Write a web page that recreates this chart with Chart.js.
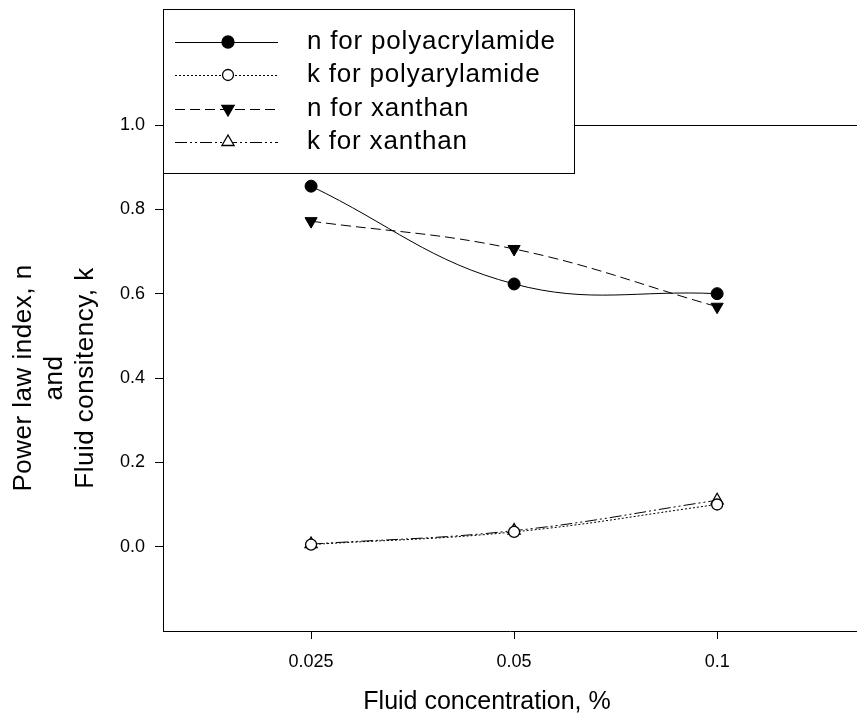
<!DOCTYPE html>
<html>
<head>
<meta charset="utf-8">
<script src="https://cdn.jsdelivr.net/npm/chart.js@4/dist/chart.umd.min.js"></script>
<style>
  html, body { margin: 0; padding: 0; background: #fff; }
  #wrap { width: 857px; height: 719px; position: relative; }
</style>
</head>
<body>
<div id="wrap"><canvas id="chart"></canvas></div>
<script>
// fluid concentration, %
const concentrations = [0.025, 0.05, 0.1];
const xTickLabels = ['0.025', '0.05', '0.1'];
const yTickLabels = ['0.0', '0.2', '0.4', '0.6', '0.8', '1.0'];

// power law index n and consistency k
const nPolyacrylamide = [0.855, 0.623, 0.600];
const kPolyacrylamide = [0.005, 0.035, 0.100];
const nXanthan = [0.772, 0.706, 0.569];
const kXanthan = [0.006, 0.038, 0.110];

const seriesNames = ['n for polyacrylamide', 'k for polyarylamide', 'n for xanthan', 'k for xanthan'];

const FONT = "'Liberation Sans', Arial, sans-serif";

function pts(vals) {
  return vals.map((v, i) => ({ x: concentrations[i], y: v }));
}

function drawMarker(ctx, ds, x, y) {
  ctx.save();
  ctx.lineWidth = 1.3;
  ctx.strokeStyle = '#000';
  ctx.fillStyle = ds.pointBackgroundColor;
  const r = ds.pointRadius;
  ctx.beginPath();
  if (ds.pointStyle === 'circle') {
    ctx.arc(x, y, r, 0, Math.PI * 2);
  } else {
    const down = ds.pointRotation === 180 ? -1 : 1;
    ctx.moveTo(x, y - down * r);
    ctx.lineTo(x + r * 0.87, y + down * r * 0.5);
    ctx.lineTo(x - r * 0.87, y + down * r * 0.5);
    ctx.closePath();
  }
  ctx.fill();
  ctx.stroke();
  ctx.restore();
}

// boxed legend sitting over the top left of the plot, plus axis titles
const extras = {
  id: 'extras',
  afterDraw(chart) {
    const ctx = chart.ctx;
    const area = chart.chartArea;
    ctx.save();
    // legend box
    const bx = 163, by = 9, bw = 411, bh = 164;
    ctx.fillStyle = '#fff';
    ctx.fillRect(bx, by, bw, bh);
    ctx.strokeStyle = '#000';
    ctx.lineWidth = 1;
    ctx.strokeRect(bx + 0.5, by + 0.5, bw, bh);
    const rows = [42, 75, 109, 142];
    chart.data.datasets.forEach((ds, i) => {
      const y = rows[i];
      ctx.save();
      ctx.strokeStyle = '#000';
      ctx.lineWidth = 1;
      ctx.setLineDash(ds.borderDash || []);
      ctx.beginPath();
      ctx.moveTo(175, y + 0.5);
      ctx.lineTo(278, y + 0.5);
      ctx.stroke();
      ctx.restore();
      drawMarker(ctx, ds, 228, y);
      ctx.fillStyle = '#000';
      ctx.font = '26px ' + FONT;
      ctx.letterSpacing = '0.8px';
      ctx.textBaseline = 'middle';
      ctx.textAlign = 'left';
      ctx.fillText(ds.label, 307, y);
    });
    // x axis title
    ctx.fillStyle = '#000';
    ctx.font = '25px ' + FONT;
    ctx.letterSpacing = '0px';
    ctx.textAlign = 'center';
    ctx.textBaseline = 'middle';
    ctx.fillText('Fluid concentration, %', 487, 702);
    // y axis title
    ctx.save();
    ctx.font = '26px ' + FONT;
    ctx.letterSpacing = '0.5px';
    ctx.translate(55, (area.top + area.bottom) / 2);
    ctx.rotate(-Math.PI / 2);
    ctx.fillText('Power law index, n', 0, -31);
    ctx.fillText('and', 0, 0);
    ctx.fillText('Fluid consitency, k', 0, 31);
    ctx.restore();
    ctx.restore();
  }
};

new Chart(document.getElementById('chart'), {
  type: 'line',
  data: {
    datasets: [
      {
        label: seriesNames[0],
        data: pts(nPolyacrylamide),
        borderColor: '#000', borderWidth: 1,
        pointStyle: 'circle', pointRadius: 6,
        pointBackgroundColor: '#000', pointBorderColor: '#000',
        tension: 0.4
      },
      {
        label: seriesNames[1],
        data: pts(kPolyacrylamide),
        borderColor: '#000', borderWidth: 1, borderDash: [2, 2],
        pointStyle: 'circle', pointRadius: 5.5,
        pointBackgroundColor: '#fff', pointBorderColor: '#000', pointBorderWidth: 1.3,
        tension: 0.4
      },
      {
        label: seriesNames[2],
        data: pts(nXanthan),
        borderColor: '#000', borderWidth: 1, borderDash: [10, 5],
        pointStyle: 'triangle', pointRotation: 180, pointRadius: 7,
        pointBackgroundColor: '#000', pointBorderColor: '#000',
        tension: 0.4
      },
      {
        label: seriesNames[3],
        data: pts(kXanthan),
        borderColor: '#000', borderWidth: 1, borderDash: [12, 3, 2, 3, 2, 3],
        pointStyle: 'triangle', pointRadius: 7,
        pointBackgroundColor: '#fff', pointBorderColor: '#000', pointBorderWidth: 1.3,
        tension: 0.4
      }
    ]
  },
  options: {
    responsive: true,
    maintainAspectRatio: false,
    animation: false,
    layout: { autoPadding: false, padding: { top: 125, right: 0, left: 0, bottom: 0 } },
    plugins: {
      legend: { display: false },
      tooltip: { enabled: false }
    },
    scales: {
      x: {
        type: 'logarithmic',
        min: 0.01508,
        max: 0.1612,
        afterBuildTicks: (scale) => {
          scale.ticks = concentrations.map(v => ({ value: v }));
        },
        afterFit: (scale) => {
          scale.height = 88;
          scale.paddingLeft = 0;
          scale.paddingRight = 0;
        },
        ticks: {
          autoSkip: false,
          maxRotation: 0,
          padding: 12,
          color: '#000',
          font: { family: FONT, size: 18 },
          callback: (v) => {
            const i = concentrations.indexOf(v);
            return i >= 0 ? xTickLabels[i] : '';
          }
        },
        grid: { drawOnChartArea: false, tickLength: 8, tickColor: '#000', tickWidth: 1 },
        border: { color: '#000', width: 1 }
      },
      y: {
        min: -0.2,
        max: 1.0,
        afterFit: (scale) => { scale.width = 163; },
        ticks: {
          stepSize: 0.2,
          padding: 10,
          color: '#000',
          font: { family: FONT, size: 18 },
          callback: (v) => {
            const i = Math.round(v / 0.2);
            return i >= 0 && i < yTickLabels.length ? yTickLabels[i] : '';
          }
        },
        grid: {
          tickLength: 8,
          color: (c) => (c.tick && Math.abs(c.tick.value - 1) < 1e-6 ? '#000' : 'rgba(0,0,0,0)'),
          tickColor: (c) => (c.tick && c.tick.value < -0.1 ? 'rgba(0,0,0,0)' : '#000'),
          lineWidth: 1
        },
        border: { color: '#000', width: 1 }
      }
    }
  },
  plugins: [extras]
});
</script>
</body>
</html>
